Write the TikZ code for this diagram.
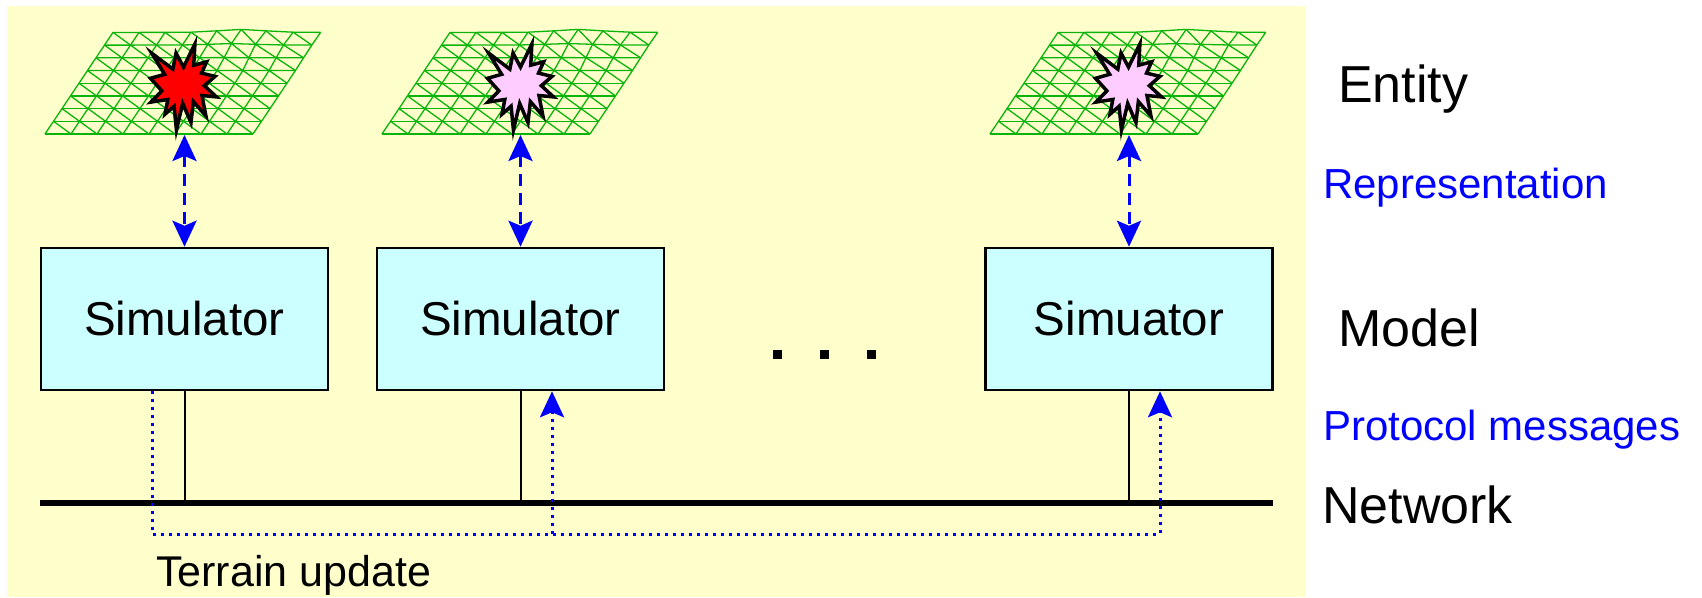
\documentclass[tikz,border=0pt]{standalone}
\usepackage{fontspec}
\setmainfont{Liberation Sans}
\usetikzlibrary{arrows.meta}
\definecolor{bgyellow}{RGB}{255,255,204}
\definecolor{simcyan}{RGB}{204,255,255}
\definecolor{meshgreen}{RGB}{10,180,10}
\definecolor{starpink}{RGB}{255,204,255}

\begin{document}
\begin{tikzpicture}[x=1pt, y=-1pt, >={Stealth[length=26pt,width=24pt,inset=5pt]},
  simbox/.style={draw, line width=2.5pt, fill=simcyan, minimum width=287pt,
    minimum height=142pt, inner sep=0pt, font=\fontsize{47.5}{50}\selectfont},
  lbl/.style={anchor=base west, inner sep=0pt, font=\fontsize{52}{56}\selectfont},
  bluelbl/.style={lbl, blue, font=\fontsize{42}{46}\selectfont},
  reparrow/.style={<->, blue, line width=3pt, dash pattern=on 12pt off 7pt},
  tupath/.style={blue, line width=3pt, dash pattern=on 3pt off 5pt},
  pics/terrain/.style={code={
    % mesh vertices, slightly warped in the upper right
    \foreach \i in {0,...,8}
      \foreach \j in {0,...,8} {
        \pgfmathsetmacro\dx{5*exp(-((\i-6)*(\i-6)+(\j-7)*(\j-7))/2)}
        \pgfmathsetmacro\dy{3*exp(-((\i-5)*(\i-5)+(\j-8)*(\j-8))/1.5)}
        \coordinate (-v\i-\j) at ({26*\i+8.5*\j-\dx},{-12.7*\j-\dy});
      }
    \begin{scope}[meshgreen, line width=1.3pt, line join=round]
      \foreach \j in {0,...,8}
        \draw (-v0-\j) \foreach \i in {1,...,8} {-- (-v\i-\j)};
      \foreach \i in {0,...,8}
        \draw (-v\i-0) \foreach \j in {1,...,8} {-- (-v\i-\j)};
      \foreach \i [count=\ii] in {0,...,7}
        \foreach \j [count=\jj] in {0,...,7}
          \draw (-v\i-\jj) -- (-v\ii-\j);
    \end{scope}
    % explosion on the terrain
    \draw[line width=3.5pt, line join=miter, fill=#1, shift={(105.5,-90)},
      xscale=0.3056, yscale=0.3981]
      (108,58) -- (145.22,0) -- (141.55,53.25) -- (183.8,44.57) -- (167.02,73.15)
      -- (210.97,81.37) -- (176.07,104.75) -- (216,132.9) -- (168.37,129.42)
      -- (181.45,180.95) -- (140.2,144.57) -- (132.47,197.37) -- (105.32,149.35)
      -- (84.85,216) -- (77.15,156.27) -- (47.62,176.17) -- (56.67,139.37)
      -- (1.35,145.87) -- (37.22,117.75) -- (0,86.15) -- (46.27,76.17)
      -- (3.7,22.95) -- (73.12,63.2) -- (83.52,22.95) -- cycle;
    \coordinate (-base) at (0,1);
  }}
]
  \useasboundingbox (0,0) rectangle (1702,597);
  \fill[white] (0,0) rectangle (1702,597);
  \fill[bgyellow] (7,6) rectangle (1306,597);

  % === Entities ===
  \pic (ent1) at (45,134) {terrain=red};
  \pic (ent2) at (382,134) {terrain=starpink};
  \pic (ent3) at (990,134) {terrain=starpink};

  % === Simulators ===
  \node[simbox] (sim1) at (184.5,319) {Simulator};
  \node[simbox] (sim2) at (520.5,319) {Simulator};
  \node[simbox] (sim3) at (1129,319) {Simuator};
  \foreach \dx in {777,824,871}
    \fill (\dx-4.5,349.5) rectangle ++(9,9);

  % === Representation ===
  \foreach \n in {1,2,3}
    \draw[reparrow] (sim\n.north |- ent\n-base) -- (sim\n.north);

  % === Network ===
  \coordinate (netL) at (40,503);
  \coordinate (netR) at (1273,503);
  \draw[line width=6pt] (netL) -- (netR);
  \foreach \n in {1,2,3}
    \draw[line width=2pt] (sim\n.south) -- (sim\n.south |- netL);

  % === Terrain update ===
  \coordinate (tuL) at (152,534);
  \coordinate (tuM) at (552,534);
  \coordinate (tuR) at (1160,534);
  \draw[tupath, ->] (sim1.south -| tuL) -- (tuL) -- (tuR) -- (sim3.south -| tuR);
  \draw[tupath, ->] (tuM) -- (sim2.south -| tuM);
  \node[lbl, font=\fontsize{43}{46}\selectfont] (tulbl) at (156,586) {Terrain update};

  % === Layer labels ===
  \node[lbl] (entity) at (1338,102) {Entity};
  \node[bluelbl] (repr) at (1323,198) {Representation};
  \node[lbl] (model) at (1338,346) {Model};
  \node[bluelbl] (proto) at (1323,440) {Protocol messages};
  \node[lbl] (network) at (1322,523) {Network};
\end{tikzpicture}
\end{document}
